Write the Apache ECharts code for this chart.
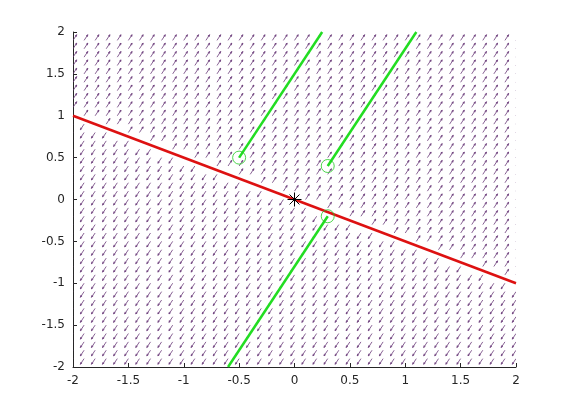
<!DOCTYPE html>
<html>
<head>
<meta charset="utf-8">
<script src="https://cdn.jsdelivr.net/npm/echarts@6/dist/echarts.min.js"></script>
<style>html,body{margin:0;padding:0;background:#fff}#c{width:570px;height:413px}</style>
</head>
<body>
<div id="c"></div>
<script>
// grid of field sample points
var gridX = [-2,-1.9,-1.8,-1.7,-1.6,-1.5,-1.4,-1.3,-1.2,-1.1,-1,-0.9,-0.8,-0.7,-0.6,-0.5,-0.4,-0.3,-0.2,-0.1,0,0.1,0.2,0.3,0.4,0.5,0.6,0.7,0.8,0.9,1,1.1,1.2,1.3,1.4,1.5,1.6,1.7,1.8,1.9,2];
var gridY = gridX.slice();
// linear field x' = A x
var fieldA = [[1, 2], [2, 4]];
var arrowLen = 0.075;
// red line (equilibrium line)
var redLine = [[-2, 1], [2, -1]];
// green trajectories
var traj1 = [[-0.5, 0.5], [0.25, 2]];
var traj2 = [[0.3, 0.4], [1.1, 2]];
var traj3 = [[0.3, -0.2], [-0.6, -2]];
var startPts = [[-0.5, 0.5], [0.3, 0.4], [0.3, -0.2]];
var eqPt = [[0, 0]];
var xTicks = [-2, -1.5, -1, -0.5, 0, 0.5, 1, 1.5, 2];
var yTicks = [-2, -1.5, -1, -0.5, 0, 0.5, 1, 1.5, 2];

var field = [];
gridX.forEach(function (x) {
  gridY.forEach(function (y) {
    var u = fieldA[0][0] * x + fieldA[0][1] * y;
    var v = fieldA[1][0] * x + fieldA[1][1] * y;
    var m = Math.sqrt(u * u + v * v);
    if (m > 1e-9) field.push([x, y, u / m * arrowLen, v / m * arrowLen]);
  });
});

var arrowColor = '#6a3a78';
var chart = echarts.init(document.getElementById('c'));
var axisCommon = {
  type: 'value', min: -2, max: 2, interval: 0.5,
  axisLine: {show: true, onZero: false, lineStyle: {color: '#262626', width: 1}},
  axisTick: {show: true, inside: true, length: 4, lineStyle: {color: '#262626'}},
  splitLine: {show: false},
  axisLabel: {color: '#262626', fontFamily: 'DejaVu Sans', fontSize: 12, margin: 8,
    formatter: function (v) { return String(+v.toFixed(2)); }}
};
chart.setOption({
  animation: false,
  grid: {left: 73, right: 54, top: 32, bottom: 46},
  xAxis: Object.assign({}, axisCommon),
  yAxis: Object.assign({}, axisCommon),
  series: [
    {
      type: 'custom', clip: true, z: 1,
      data: field,
      renderItem: function (params, api) {
        var x = api.value(0), y = api.value(1), dx = api.value(2), dy = api.value(3);
        var p0 = api.coord([x, y]);
        var p1 = api.coord([x + dx, y + dy]);
        var ax = p1[0] - p0[0], ay = p1[1] - p0[1];
        var L = Math.sqrt(ax * ax + ay * ay);
        var ux = ax / L, uy = ay / L;
        var h = L * 0.3, w = L * 0.12;
        var b = [p1[0] - ux * h, p1[1] - uy * h];
        var nx = -uy, ny = ux;
        return {
          type: 'group',
          children: [
            {type: 'line', shape: {x1: p0[0], y1: p0[1], x2: p1[0], y2: p1[1]},
              style: {stroke: arrowColor, lineWidth: 0.8}},
            {type: 'polyline', shape: {points: [[b[0] + nx * w, b[1] + ny * w], p1, [b[0] - nx * w, b[1] - ny * w]]},
              style: {stroke: arrowColor, lineWidth: 0.8, fill: null}}
          ]
        };
      }
    },
    {type: 'line', data: redLine, symbol: 'none', lineStyle: {color: '#dd1111', width: 2.5}, z: 3},
    {type: 'line', data: traj1, symbol: 'none', lineStyle: {color: '#22dd22', width: 2.5}, z: 3},
    {type: 'line', data: traj2, symbol: 'none', lineStyle: {color: '#22dd22', width: 2.5}, z: 3},
    {type: 'line', data: traj3, symbol: 'none', lineStyle: {color: '#22dd22', width: 2.5}, z: 3},
    {type: 'scatter', data: startPts, symbol: 'circle', symbolSize: 13, z: 4,
      itemStyle: {color: 'rgba(0,0,0,0)', borderColor: '#22cc22', borderWidth: 1}},
    {
      type: 'custom', z: 5, data: eqPt,
      renderItem: function (params, api) {
        var p = api.coord([api.value(0), api.value(1)]);
        var r = 7, d = r * 0.707;
        var segs = [[0, -r, 0, r], [-r, 0, r, 0], [-d, -d, d, d], [-d, d, d, -d]];
        return {type: 'group', children: segs.map(function (s) {
          return {type: 'line', shape: {x1: p[0] + s[0], y1: p[1] + s[1], x2: p[0] + s[2], y2: p[1] + s[3]},
            style: {stroke: '#000', lineWidth: 1}};
        })};
      }
    }
  ]
});
</script>
</body>
</html>
